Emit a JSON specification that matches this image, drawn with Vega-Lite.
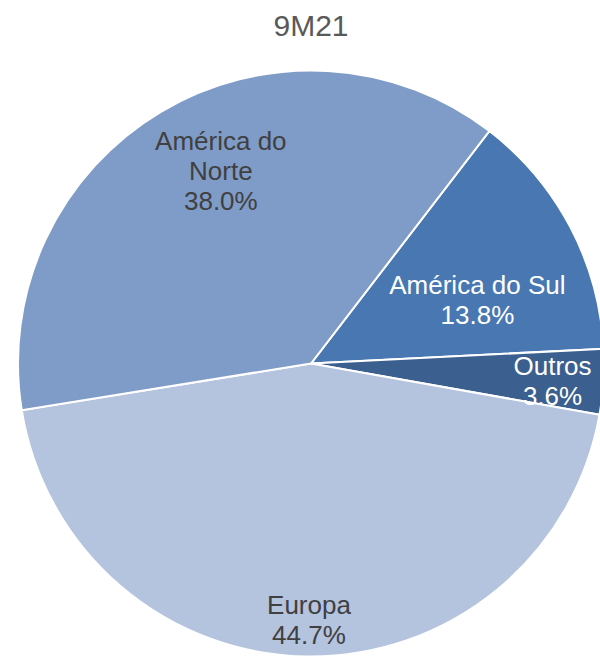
{
  "$schema": "https://vega.github.io/schema/vega-lite/v6.json",
  "autosize": "none",
  "width": 622,
  "height": 587,
  "padding": {"top": 70, "left": 0, "right": 0, "bottom": 0},
  "background": "white",
  "config": {"view": {"stroke": null}},
  "title": {
    "text": "9M21",
    "font": "Liberation Sans",
    "fontSize": 30,
    "fontWeight": "normal",
    "color": "#595959",
    "baseline": "alphabetic",
    "offset": 1,
    "anchor": "middle"
  },
  "data": {
    "values": [
      {"regiao": "América do Sul", "pct": 13.8, "ordem": 1, "rotulo": "América do Sul\n13.8%"},
      {"regiao": "Outros", "pct": 3.6, "ordem": 2, "rotulo": "Outros\n3.6%"},
      {"regiao": "Europa", "pct": 44.7, "ordem": 3, "rotulo": "Europa\n44.7%"},
      {"regiao": "América do Norte", "pct": 38.0, "ordem": 4, "rotulo": "América do\nNorte\n38.0%"}
    ]
  },
  "encoding": {
    "theta": {"field": "pct", "type": "quantitative", "stack": true, "scale": {"range": [0.6545, 6.9377]}},
    "order": {"field": "ordem", "type": "quantitative"}
  },
  "layer": [
    {
      "mark": {"type": "arc", "radius": 293, "stroke": "white", "strokeWidth": 2},
      "encoding": {
        "color": {
          "field": "regiao",
          "type": "nominal",
          "scale": {
            "domain": ["América do Norte", "América do Sul", "Outros", "Europa"],
            "range": ["#7f9bc8", "#4877b1", "#3b5f8e", "#b4c3de"]
          },
          "legend": null
        }
      }
    },
    {
      "mark": {"type": "text", "radius": 213, "dx": 19, "dy": -39, "font": "Liberation Sans", "fontSize": 26, "lineHeight": 30, "lineBreak": "\n", "align": "center", "baseline": "middle", "color": "#404040"},
      "encoding": {"text": {"condition": {"test": "datum.regiao === 'América do Norte'", "field": "rotulo"}, "value": ""}}
    },
    {
      "mark": {"type": "text", "radius": 180, "dx": 7, "dy": 6, "font": "Liberation Sans", "fontSize": 26, "lineHeight": 30, "lineBreak": "\n", "align": "center", "baseline": "middle", "color": "#ffffff"},
      "encoding": {"text": {"condition": {"test": "datum.regiao === 'América do Sul'", "field": "rotulo"}, "value": ""}}
    },
    {
      "mark": {"type": "text", "radius": 242, "dy": -12, "font": "Liberation Sans", "fontSize": 26, "lineHeight": 30, "lineBreak": "\n", "align": "center", "baseline": "middle", "color": "#ffffff"},
      "encoding": {"text": {"condition": {"test": "datum.regiao === 'Outros'", "field": "rotulo"}, "value": ""}}
    },
    {
      "mark": {"type": "text", "radius": 255, "dy": -12, "font": "Liberation Sans", "fontSize": 26, "lineHeight": 30, "lineBreak": "\n", "align": "center", "baseline": "middle", "color": "#404040"},
      "encoding": {"text": {"condition": {"test": "datum.regiao === 'Europa'", "field": "rotulo"}, "value": ""}}
    }
  ]
}
